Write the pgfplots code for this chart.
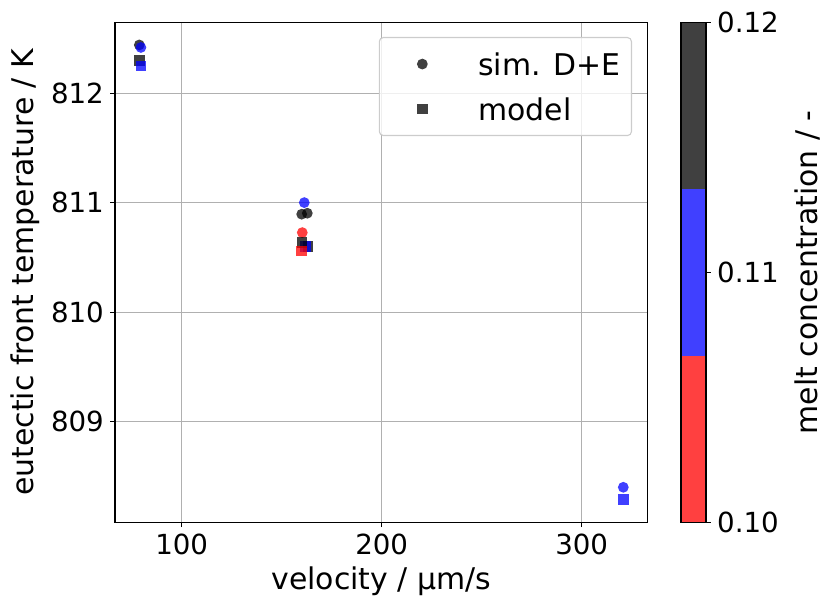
\documentclass[border=0pt]{standalone}
\usepackage{fontspec}
\setmainfont{DejaVu Sans}
\usepackage{pgfplots}
\pgfplotsset{compat=1.18}
\definecolor{cred}{RGB}{255,0,0}
\definecolor{cblue}{RGB}{0,0,255}
\definecolor{cblack}{RGB}{0,0,0}
\definecolor{lred}{RGB}{255,64,64}
\definecolor{lblue}{RGB}{64,64,255}
\definecolor{lblack}{RGB}{64,64,64}
\definecolor{gridc}{RGB}{176,176,176}
\begin{document}
\begin{tikzpicture}
\useasboundingbox (-1.15in,-0.877in) rectangle (7.16in,5.223in);
\pgfplotsset{
  every axis/.append style={
    font=\fontsize{20}{24}\selectfont,
    /pgf/number format/assume math mode=true,
    tick style={black, line width=0.8pt},
    major tick length=0.049in,
    tick align=outside,
    axis line style={line width=0.8pt},
  },
  mk/.style={only marks, mark=#1, mark size=3.9pt, forget plot},
}
\begin{axis}[
  at={(0,0)}, anchor=south west,
  scale only axis, width=5.327in, height=5in,
  xmin=66.65, xmax=333, ymin=808.08, ymax=812.65,
  xtick={100,200,300}, ytick={809,810,811,812},
  xtick pos=bottom, ytick pos=left,
  grid=major, major grid style={gridc, line width=0.8pt},
  xticklabel style={anchor=north, inner sep=0pt, yshift=-0.06in},
  yticklabel style={anchor=east, inner sep=0pt, xshift=-0.06in},
  xlabel={velocity / μm/s},
  ylabel={eutectic front temperature / K},
  every axis x label/.style={at={(axis description cs:0.5,0)}, yshift=-0.67in, anchor=base, font=\fontsize{21.6}{26}\selectfont},
  every axis y label/.style={at={(axis description cs:0,0.5)}, xshift=-0.81in, rotate=90, anchor=base, font=\fontsize{21.6}{26}\selectfont},
  legend style={at={(1,1)}, anchor=north east, xshift=-0.157in, yshift=-0.147in,
    draw=black!20, line width=0.8pt, rounded corners=0.04in, fill=white, fill opacity=0.8, text opacity=1,
    inner xsep=0.11in, inner ysep=0.1in, row sep=0.12in, column sep=0pt,
    nodes={inner sep=0pt, text height=0.28in, text depth=0.05in},
    font=\fontsize{21.6}{26}\selectfont},
  legend cell align=left,
  legend image code/.code={\path[draw=none, fill=none] (0,-0.1in) rectangle (0.88in,0.1in);
     \path[draw=none, fill=none] plot[#1] coordinates {(0.32in,0in)};},
]
\addlegendimage{only marks, mark=*, mark size=3.9pt, mark options={draw opacity=0, fill=lblack, fill opacity=1}}
\addlegendentry{sim. D+E}
\addlegendimage{only marks, mark=square*, mark size=3.9pt, mark options={draw opacity=0, fill=lblack, fill opacity=1}}
\addlegendentry{model}
% simulation (circles)
\addplot[mk=*, mark options={draw opacity=0, fill=cblack, fill opacity=0.75}]
  coordinates {(78.8,812.443) (160.0,810.896) (162.8,810.905)};
\addplot[mk=*, mark options={draw opacity=0, fill=cblue, fill opacity=0.75}]
  coordinates {(79.6,812.42) (161.3,811.002) (320.8,808.40)};
\addplot[mk=*, mark options={draw opacity=0, fill=cred, fill opacity=0.75}]
  coordinates {(160.3,810.728)};
% model (squares)
\addplot[mk=square*, mark options={draw opacity=0, fill=cblack, fill opacity=0.75}]
  coordinates {(78.8,812.30) (163.2,810.60)};
\addplot[mk=square*, mark options={draw opacity=0, fill=cblue, fill opacity=0.75}]
  coordinates {(79.6,812.25) (162.0,810.60) (320.8,808.285)};
\addplot[mk=square*, mark options={draw opacity=0, fill=cblack, fill opacity=0.75}]
  coordinates {(160.2,810.64)};
\addplot[mk=square*, mark options={draw opacity=0, fill=cred, fill opacity=0.75}]
  coordinates {(159.8,810.56)};
\end{axis}
% colorbar
\begin{axis}[
  at={(5.66in,0)}, anchor=south west,
  scale only axis, width=0.25in, height=5in,
  xmin=0, xmax=1, ymin=0.10, ymax=0.12,
  xtick=\empty, ytick={0.10,0.11,0.12},
  ytick pos=right, yticklabel pos=right,
  yticklabel style={anchor=west, inner sep=0pt, xshift=0.06in,
    /pgf/number format/.cd, fixed, fixed zerofill, precision=2},
  axis on top,
  ylabel={melt concentration / -},
  every axis y label/.style={at={(axis description cs:1,0.5)}, xshift=1.11in, rotate=90, anchor=base, font=\fontsize{21.6}{26}\selectfont},
]
\addplot[fill=lred, draw=none] coordinates {(0,0.10) (1,0.10) (1,0.106667) (0,0.106667)};
\addplot[fill=lblue, draw=none] coordinates {(0,0.106667) (1,0.106667) (1,0.113333) (0,0.113333)};
\addplot[fill=lblack, draw=none] coordinates {(0,0.113333) (1,0.113333) (1,0.12) (0,0.12)};
\end{axis}
\end{tikzpicture}
\end{document}
